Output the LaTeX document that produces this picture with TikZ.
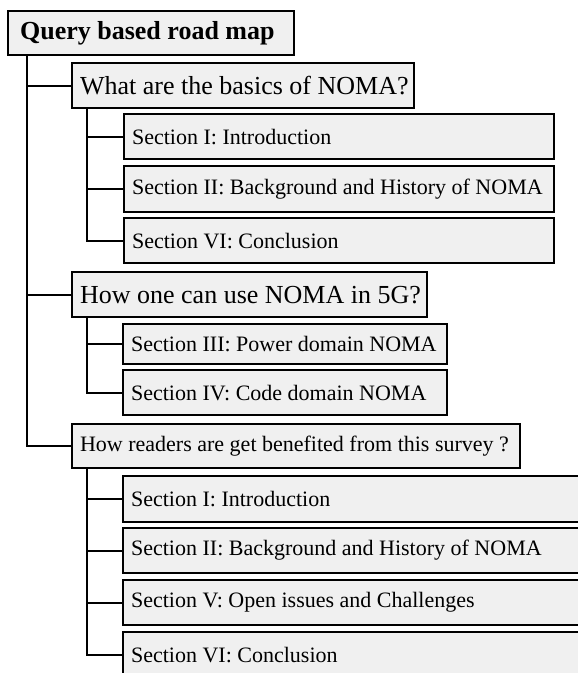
\documentclass[tikz,border=0pt]{standalone}
\usepackage{fontspec}
\setmainfont{Liberation Serif}
\newcommand{\lbox}[2]{\makebox[#1][l]{#2}}
\begin{document}
\begin{tikzpicture}[x=1pt,y=-1pt,
  box/.style={draw=black, line width=2.2pt, fill=boxgray, anchor=north west,
    inner xsep=8pt, inner ysep=0pt},
  big/.style={font=\fontsize{26}{30}\selectfont},
  small/.style={font=\fontsize{22}{26}\selectfont},
  link/.style={draw=black, line width=2.2pt}]
\definecolor{boxgray}{HTML}{F0F0F0}
\useasboundingbox (0,0) rectangle (578,673);
\fill[white] (0,0) rectangle (578,673);
\clip (0,0) rectangle (578,673);
% nodes
\node[box, inner xsep=12pt, minimum height=44pt,
  font=\fontsize{26}{30}\selectfont\bfseries] (root) at (7,10) {\lbox{262pt}{Query based road map}};
\node[box, big, minimum height=45pt] (q1) at (71,62) {\lbox{326pt}{What are the basics of NOMA?}};
\node[box, small, minimum height=45pt] (s1) at (123,113) {\lbox{414pt}{Section I: Introduction}};
\node[box, small, minimum height=46pt] (s2) at (123,165) {\lbox{414pt}{Section II: Background and History of NOMA}};
\node[box, small, minimum height=45pt] (s6) at (123,217) {\lbox{414pt}{Section VI: Conclusion}};
\node[box, big, minimum height=45pt] (q2) at (71,271) {\lbox{339pt}{How one can use NOMA in 5G?}};
\node[box, small, minimum height=40pt] (s3) at (122,323) {\lbox{308pt}{Section III: Power domain NOMA}};
\node[box, small, minimum height=45pt] (s4) at (122,369) {\lbox{308pt}{Section IV: Code domain NOMA}};
\node[box, small, minimum height=44pt] (q3) at (71,423) {\lbox{432pt}{How readers are get benefited from this survey ?}};
\node[box, small, minimum height=46pt] (b1) at (122,475) {\lbox{464pt}{Section I: Introduction}};
\node[box, small, minimum height=45pt] (b2) at (122,527) {\lbox{464pt}{Section II: Background and History of NOMA}};
\node[box, small, minimum height=45pt] (b5) at (122,579) {\lbox{464pt}{Section V: Open issues and Challenges}};
\node[box, small, minimum height=46pt] (b6) at (122,631) {\lbox{464pt}{Section VI: Conclusion}};
% connectors
\draw[link] ([xshift=20pt]root.south west) |- (q1.west);
\draw[link] ([xshift=20pt]root.south west) |- (q2.west);
\draw[link] ([xshift=20pt]root.south west) |- (q3.west);
\draw[link] ([xshift=16pt]q1.south west) |- (s1.west);
\draw[link] ([xshift=16pt]q1.south west) |- (s2.west);
\draw[link] ([xshift=16pt]q1.south west) |- (s6.west);
\draw[link] ([xshift=16pt]q2.south west) |- (s3.west);
\draw[link] ([xshift=16pt]q2.south west) |- (s4.west);
\draw[link] ([xshift=16pt]q3.south west) |- (b1.west);
\draw[link] ([xshift=16pt]q3.south west) |- (b2.west);
\draw[link] ([xshift=16pt]q3.south west) |- (b5.west);
\draw[link] ([xshift=16pt]q3.south west) |- (b6.west);
\end{tikzpicture}
\end{document}
